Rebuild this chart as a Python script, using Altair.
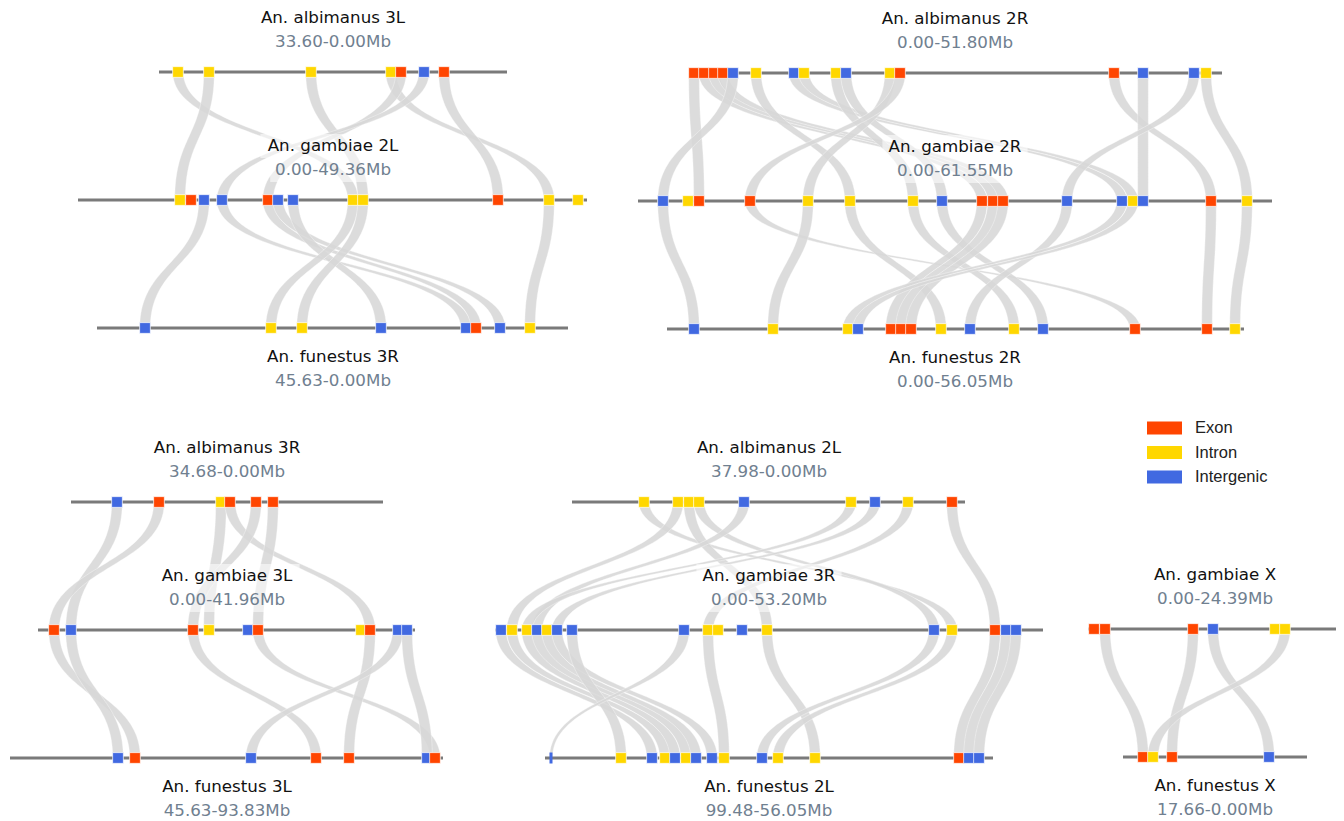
import numpy as np
import pandas as pd
import altair as alt

# ---------------- data ----------------
TYPE_NAMES = ["Exon", "Intron", "Intergenic"]
TYPE_COLORS = ["#FF4500", "#FFD700", "#4169E1"]
CODE = {"E": "Exon", "I": "Intron", "G": "Intergenic"}

TRACK_ID = ["alb3L", "gam2L", "fun3R", "alb2R", "gam2R", "fun2R", "alb3R", "gam3L",
            "fun3L", "alb2L", "gam3R", "fun2L", "gamX", "funX"]
TRACK_NAME = ["An. albimanus 3L", "An. gambiae 2L", "An. funestus 3R",
              "An. albimanus 2R", "An. gambiae 2R", "An. funestus 2R",
              "An. albimanus 3R", "An. gambiae 3L", "An. funestus 3L",
              "An. albimanus 2L", "An. gambiae 3R", "An. funestus 2L",
              "An. gambiae X", "An. funestus X"]
TRACK_RANGE = ["33.60-0.00Mb", "0.00-49.36Mb", "45.63-0.00Mb",
               "0.00-51.80Mb", "0.00-61.55Mb", "0.00-56.05Mb",
               "34.68-0.00Mb", "0.00-41.96Mb", "45.63-93.83Mb",
               "37.98-0.00Mb", "0.00-53.20Mb", "99.48-56.05Mb",
               "0.00-24.39Mb", "17.66-0.00Mb"]
TRACK_START = [159, 78, 97, 689, 638, 667, 71, 38, 10, 572, 495, 545, 1088, 1123]
TRACK_END = [507, 587, 568, 1222, 1272, 1244, 383, 415, 443, 965, 1043, 993, 1344, 1307]
TRACK_Y = [72, 200, 328, 73, 201, 329, 502, 630, 758, 502, 630, 758, 629, 757]
TRACK_ROLE = ["top", "mid", "bottom", "top", "mid", "bottom", "top", "mid", "bottom",
              "top", "mid", "bottom", "top", "bottom"]
PANEL_X = [333, 333, 333, 955, 955, 955, 227, 227, 227, 769, 769, 769, 1215, 1215]

GENE_POS = {
    "alb3L": [178, 209, 311, 391, 401, 424, 444],
    "gam2L": [180, 191, 204, 222, 268, 278, 293, 353, 363, 498, 549, 578],
    "fun3R": [145, 271, 302, 381, 466, 476, 500, 530],
    "alb2R": [694, 704, 714, 723, 733, 756, 794, 804, 836, 846, 890, 900, 1114, 1143, 1194, 1206],
    "gam2R": [663, 688, 699, 750, 808, 850, 913, 942, 982, 993, 1003, 1067, 1122, 1133, 1143, 1211, 1247],
    "fun2R": [694, 773, 848, 858, 891, 901, 911, 941, 970, 1014, 1043, 1135, 1207, 1235],
    "alb3R": [117, 159, 221, 230, 256, 273],
    "gam3L": [54, 71, 193, 209, 248, 258, 361, 370, 398, 407],
    "fun3L": [118, 135, 251, 316, 349, 427, 435],
    "alb2L": [644, 678, 689, 699, 744, 851, 875, 908, 952],
    "gam3R": [501, 512, 527, 537, 547, 557, 572, 684, 708, 718, 742, 767, 934, 952, 995, 1006, 1016],
    "fun2L": [551, 621, 652, 665, 675, 686, 696, 712, 724, 762, 778, 815, 959, 969, 979],
    "gamX": [1094, 1105, 1193, 1213, 1275, 1285],
    "funX": [1143, 1153, 1172, 1269],
}
GENE_TYPE = {
    "alb3L": "IIIIEGE",
    "gam2L": "IEGGEGGIIEII",
    "fun3R": "GIIGGEGI",
    "alb2R": "EEEEGIGIIGIEEGGI",
    "gam2R": "GIEEIIIGEEEGGIGEI",
    "fun2R": "GIIGEEEIGIGEEI",
    "alb3R": "GEIEEE",
    "gam3L": "EGEIGEIEGG",
    "fun3L": "GEGEEGE",
    "alb2L": "IIIIGIGIE",
    "gam3R": "GIIGIGGGIIGIGIEGG",
    "fun2L": "GIGIGIGGIGIIEGG",
    "gamX": "EEEGII",
    "funX": "EIEG",
}
THIN = {("fun2L", 551)}

LINKS = [
    ("alb3L", "gam2L", [(178, 353), (209, 180), (311, 363), (391, 549), (401, 268), (424, 222), (444, 498)]),
    ("gam2L", "fun3R", [(204, 145), (222, 466), (268, 476), (278, 500), (293, 381), (353, 271), (363, 302), (549, 530)]),
    ("alb2R", "gam2R", [(694, 699), (704, 982), (714, 993), (723, 1003), (733, 663), (756, 850), (794, 1122),
                        (804, 1133), (836, 913), (846, 942), (890, 808), (900, 750), (1114, 1211), (1143, 1143),
                        (1194, 1067), (1206, 1247)]),
    ("gam2R", "fun2R", [(663, 694), (750, 1135), (808, 773), (850, 941), (913, 1014), (942, 1043), (982, 891),
                        (993, 901), (1003, 911), (1067, 970), (1122, 848), (1133, 858), (1211, 1207), (1247, 1235)]),
    ("alb3R", "gam3L", [(117, 71), (159, 54), (221, 209), (230, 370), (256, 193), (273, 258)]),
    ("gam3L", "fun3L", [(54, 135), (71, 118), (193, 316), (258, 435), (370, 349), (398, 251), (407, 427)]),
    ("alb2L", "gam3R", [(644, 952), (678, 512), (689, 767), (699, 934), (744, 537), (851, 527), (875, 557),
                        (908, 708), (952, 995)]),
    ("gam3R", "fun2L", [(501, 652), (512, 665), (527, 675), (537, 686), (547, 696), (557, 712), (572, 621),
                        (684, 551), (708, 724), (767, 815), (934, 762), (952, 778), (995, 959), (1006, 969),
                        (1016, 979)]),
    ("gamX", "funX", [(1105, 1143), (1193, 1172), (1213, 1269), (1285, 1153)]),
]

# ---------------- layout / style constants ----------------
W, H = 1328, 811
XDOM = [8, 8 + W]
YDOM = [8, 8 + H]
HALF = 5.3        # ribbon half width at a normal marker
THIN_HALF = 1.5   # ribbon half width at a thin marker
TITLE_UP, SUB_UP = -54, -30
TITLE_DN, SUB_DN = 29, 53
FS = 16.7
LEG_X, LEG_Y0, LEG_DY = 1147, 428, 24.5

idx = {t: i for i, t in enumerate(TRACK_ID)}

# ribbons (cubic bezier centre line, horizontal half-width interpolated between ends)
T = np.linspace(0, 1, 48)
S = 3 * T ** 2 - 2 * T ** 3
V = 1.5 * T - 1.5 * T ** 2 + T ** 3
rib = []
rid = 0
for a, b, pairs in LINKS:
    ya, yb = TRACK_Y[idx[a]], TRACK_Y[idx[b]]
    for pa, pb in pairs:
        ha = THIN_HALF if (a, pa) in THIN else HALF
        hb = THIN_HALF if (b, pb) in THIN else HALF
        xs_ = pa + (pb - pa) * S
        hw = ha + (hb - ha) * S
        ys_ = ya + (yb - ya) * V
        for xx, yy, hh in zip(xs_, ys_, hw):
            rib.append({"rid": rid, "ry": float(yy), "xl": float(xx - hh), "xr": float(xx + hh)})
        rid += 1
rib_df = pd.DataFrame(rib)

tracks_df = pd.DataFrame({"x": TRACK_START, "x2": TRACK_END, "y": TRACK_Y})

mk = []
for t in TRACK_ID:
    for p, c in zip(GENE_POS[t], GENE_TYPE[t]):
        mk.append({"x": p, "y": TRACK_Y[idx[t]], "type": CODE[c], "thin": (t, p) in THIN})
mk_df = pd.DataFrame(mk)
sq_df = mk_df[~mk_df.thin]
thin_df = mk_df[mk_df.thin]

lab = []
bg = []
for i, t in enumerate(TRACK_ID):
    if TRACK_ROLE[i] == "bottom":
        ty, sy = TRACK_Y[i] + TITLE_DN, TRACK_Y[i] + SUB_DN
    else:
        ty, sy = TRACK_Y[i] + TITLE_UP, TRACK_Y[i] + SUB_UP
    lab.append({"x": PANEL_X[i], "y": ty, "text": TRACK_NAME[i], "kind": "title"})
    lab.append({"x": PANEL_X[i], "y": sy, "text": TRACK_RANGE[i], "kind": "sub"})
    if TRACK_ROLE[i] == "mid":
        for txt, yy in ((TRACK_NAME[i], ty), (TRACK_RANGE[i], sy)):
            w = 9.8 * len(txt) + 8
            bg.append({"x": PANEL_X[i] - w / 2, "x2": PANEL_X[i] + w / 2, "y": yy - 12, "y2": yy + 12})
lab_df = pd.DataFrame(lab)
bg_df = pd.DataFrame(bg)

leg_df = pd.DataFrame({
    "type": TYPE_NAMES,
    "x": [LEG_X] * 3,
    "x2": [LEG_X + 35] * 3,
    "y": [LEG_Y0 + k * LEG_DY - 6.5 for k in range(3)],
    "y2": [LEG_Y0 + k * LEG_DY + 6.5 for k in range(3)],
    "ty": [LEG_Y0 + k * LEG_DY for k in range(3)],
    "tx": [LEG_X + 48] * 3,
})

# ---------------- chart ----------------
xs = alt.Scale(domain=XDOM, nice=False, zero=False)
ys = alt.Scale(domain=YDOM, nice=False, zero=False, reverse=True)
cs = alt.Scale(domain=TYPE_NAMES, range=TYPE_COLORS)

ribbons = alt.Chart(rib_df).mark_area(
    orient="horizontal", color="#d7d7d7", fillOpacity=0.88,
    stroke="#ffffff", strokeWidth=0.5, strokeOpacity=0.7
).encode(
    y=alt.Y("ry:Q", scale=ys, axis=None),
    x=alt.X("xl:Q", scale=xs, axis=None),
    x2="xr:Q",
    detail="rid:N",
)

label_bg = alt.Chart(bg_df).mark_rect(color="white", opacity=0.55).encode(
    x=alt.X("x:Q", scale=xs, axis=None), x2="x2:Q",
    y=alt.Y("y:Q", scale=ys, axis=None), y2="y2:Q",
)

track_lines = alt.Chart(tracks_df).mark_rule(color="#7a7a7a", strokeWidth=3).encode(
    x=alt.X("x:Q", scale=xs, axis=None), x2="x2:Q",
    y=alt.Y("y:Q", scale=ys, axis=None),
)

squares = alt.Chart(sq_df).mark_square(size=115, opacity=1, stroke="white", strokeWidth=0.7).encode(
    x=alt.X("x:Q", scale=xs, axis=None),
    y=alt.Y("y:Q", scale=ys, axis=None),
    color=alt.Color("type:N", scale=cs, legend=None),
)

thin_marks = alt.Chart(thin_df).mark_tick(orient="vertical", thickness=3, size=11, opacity=1).encode(
    x=alt.X("x:Q", scale=xs, axis=None),
    y=alt.Y("y:Q", scale=ys, axis=None),
    color=alt.Color("type:N", scale=cs, legend=None),
)

titles = alt.Chart(lab_df[lab_df.kind == "title"]).mark_text(
    font="DejaVu Sans", fontSize=FS, color="#111111", align="center", baseline="middle"
).encode(
    x=alt.X("x:Q", scale=xs, axis=None), y=alt.Y("y:Q", scale=ys, axis=None), text="text:N"
)
subs = alt.Chart(lab_df[lab_df.kind == "sub"]).mark_text(
    font="DejaVu Sans", fontSize=FS, color="#708090", align="center", baseline="middle"
).encode(
    x=alt.X("x:Q", scale=xs, axis=None), y=alt.Y("y:Q", scale=ys, axis=None), text="text:N"
)

leg_rects = alt.Chart(leg_df).mark_rect(opacity=1).encode(
    x=alt.X("x:Q", scale=xs, axis=None), x2="x2:Q",
    y=alt.Y("y:Q", scale=ys, axis=None), y2="y2:Q",
    color=alt.Color("type:N", scale=cs, legend=None),
)
leg_text = alt.Chart(leg_df).mark_text(
    font="Liberation Sans", fontSize=16.5, color="#222222", align="left", baseline="middle"
).encode(
    x=alt.X("tx:Q", scale=xs, axis=None), y=alt.Y("ty:Q", scale=ys, axis=None), text="type:N"
)

chart = alt.layer(
    ribbons, label_bg, track_lines, squares, thin_marks, titles, subs, leg_rects, leg_text
).properties(
    width=W, height=H, padding=0, autosize=alt.AutoSizeParams(type="none")
).configure_view(strokeWidth=0)

chart.save("out.html", embed_options={"renderer": "svg", "actions": False})
